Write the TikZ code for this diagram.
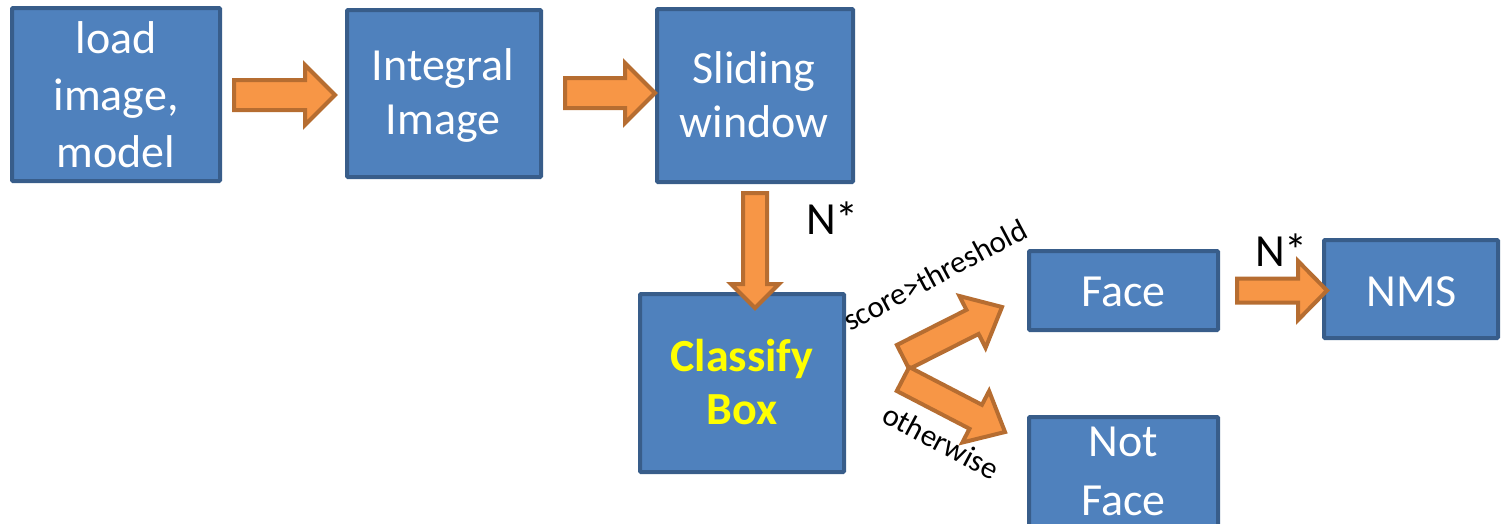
\documentclass[tikz,border=0pt]{standalone}
\usepackage{fontspec}
\setmainfont{Carlito}
\usetikzlibrary{calc}

\definecolor{boxfill}{HTML}{4F81BD}
\definecolor{boxline}{HTML}{385D8A}
\definecolor{arrfill}{HTML}{F79646}
\definecolor{arrline}{HTML}{B66D31}
\definecolor{hilite}{HTML}{FFFF00}

\tikzset{
  box/.style={rectangle, draw=boxline, fill=boxfill, line width=4pt,
    outer sep=0pt, inner sep=0pt, rounded corners=1pt},
  boxtext/.style={text=white, font=\fontsize{46}{55}\selectfont,
    anchor=base, inner sep=0pt},
  classtext/.style={boxtext, text=hilite,
    font=\fontsize{46}{55}\selectfont\bfseries},
  countlabel/.style={font=\fontsize{46}{55}\selectfont,
    anchor=base west, inner sep=0pt},
  condlabel/.style={font=\fontsize{31}{37}\selectfont,
    anchor=base west, inner sep=0pt},
  blockarrow/.style={draw=arrline, fill=arrfill, line width=4pt,
    line join=miter},
}

% Block arrow from #1 (tail centre) to #2 (tip):
% #3 half shaft width, #4 half head width, #5 head length
\newcommand\flowarrow[5]{%
  \draw[blockarrow] let \p1=(#1), \p2=(#2),
      \n1={atan2(\y2-\y1,\x2-\x1)}, \n2={veclen(\x2-\x1,\y2-\y1)-#5} in
    ($(\p1)+({\n1+90}:#3pt)$)
    -- ($(\p1)+({\n1}:{\n2})+({\n1+90}:#3pt)$)
    -- ($(\p1)+({\n1}:{\n2})+({\n1+90}:#4pt)$)
    -- (\p2)
    -- ($(\p1)+({\n1}:{\n2})+({\n1-90}:#4pt)$)
    -- ($(\p1)+({\n1}:{\n2})+({\n1-90}:#3pt)$)
    -- ($(\p1)+({\n1-90}:#3pt)$)
    -- cycle;}

\begin{document}
\begin{tikzpicture}[x=1pt,y=-1pt]
\useasboundingbox (0,0) rectangle (1502,523);

% process boxes
\node[box, minimum width=208pt, minimum height=173pt] (load)     at (116,94.5)  {};
\node[box, minimum width=194pt, minimum height=167pt] (integral) at (444,93.5)  {};
\node[box, minimum width=196pt, minimum height=173pt] (sliding)  at (755,95.5)  {};
\node[box, minimum width=204pt, minimum height=178pt] (classify) at (742,383)   {};
\node[box, minimum width=189pt, minimum height=79pt]  (face)     at (1123.5,290.5) {};
\node[box, minimum width=174pt, minimum height=98pt]  (nms)      at (1411,289)  {};
\node[box, minimum width=189pt, minimum height=143pt] (notface)  at (1123.5,488.5) {};

% box captions, one node per line
\node[boxtext] (load-a) at (116,53)  {load};
\node[boxtext] (load-b) at (116,110) {image,};
\node[boxtext] (load-c) at (116,167) {model};
\node[boxtext] (integral-a) at (443,80)  {Integral};
\node[boxtext] (integral-b) at (443,134) {Image};
\node[boxtext] (sliding-a) at (754,83)  {Sliding};
\node[boxtext] (sliding-b) at (754,137) {window};
\node[classtext] (classify-a) at (742,371) {Classify};
\node[classtext] (classify-b) at (742,424) {Box};
\node[boxtext] (face-a) at (1123.5,306) {Face};
\node[boxtext] (nms-a) at (1412,306) {NMS};
\node[boxtext] (notface-a) at (1123.5,456) {Not};
\node[boxtext] (notface-b) at (1123.5,515) {Face};

% arrow end points, taken from the boxes they join
\coordinate (a1s) at ($(load.east)+(14,0.5)$);
\coordinate (a1e) at ($(integral.west)+(-12,1.5)$);
\coordinate (a2s) at ($(integral.east)+(24,-0.5)$);
\coordinate (a2e) at ($(sliding.west)+(-2,-2.5)$);
\coordinate (a3s) at ($(sliding.south)+(0,11)$);
\coordinate (a3e) at ($(classify.north)+(13,14)$);
\coordinate (a4s) at ($(face.east)+(19,0)$);
\coordinate (a4e) at ($(nms.west)+(3,1.5)$);
\coordinate (ys)  at ($(classify.east)+(59,-26)$);
\coordinate (ye)  at ($(face.west)+(-27,16.5)$);
\coordinate (ns)  at ($(classify.east)+(59,-4)$);
\coordinate (ne)  at ($(notface.west)+(-24,-56.5)$);

% block arrows
\flowarrow{a1s}{a1e}{15}{30}{30}
\flowarrow{a2s}{a2e}{15}{30}{30}
\flowarrow{a3s}{a3e}{12}{24}{24}
\flowarrow{a4s}{a4e}{12}{29.5}{29}
\flowarrow{ys}{ye}{13.5}{29}{33}
\flowarrow{ns}{ne}{13.5}{29}{33}

% labels
\node[countlabel] (count-a) at (806,234)  {N*};
\node[countlabel] (count-b) at (1255,266) {N*};
\node[condlabel, rotate=28]  (cond-yes) at (850,332) {score>threshold};
\node[condlabel, rotate=-28] (cond-no)  at (880,421) {otherwise};
\end{tikzpicture}
\end{document}
